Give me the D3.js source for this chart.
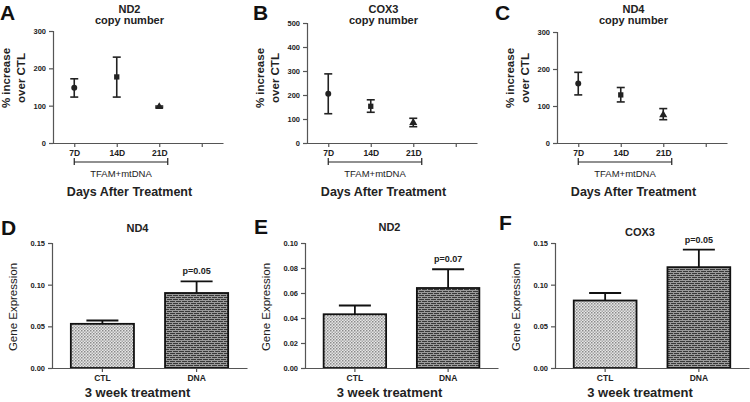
<!DOCTYPE html>
<html>
<head>
<meta charset="utf-8">
<script src="https://cdn.jsdelivr.net/npm/d3@7"></script>
<style>
  body { margin: 0; background: #fff; }
  svg { display: block; font-family: "Liberation Sans", Arial, sans-serif; }
  .tick text { font-weight: bold; fill: #222; }
</style>
</head>
<body>
<div id="vis"></div>
<script>
// copy number panels (A-C)
const days = ['7D', '14D', '21D'];
const copyTitles = ['ND2', 'COX3', 'ND4'];
const copyMax = [300, 500, 300];
const copyTicks = [[0, 100, 200, 300], [0, 100, 200, 300, 400, 500], [0, 100, 200, 300]];
const nd2Copy = [148, 177, 97], nd2CopyLo = [123, 123, 95], nd2CopyHi = [172, 230, 99];
const cox3Copy = [205, 153, 85], cox3CopyLo = [122, 128, 68], cox3CopyHi = [288, 180, 103];
const nd4Copy = [161, 130, 76], nd4CopyLo = [130, 111, 63], nd4CopyHi = [191, 150, 93];

// gene expression panels (D-F)
const groups = ['CTL', 'DNA'];
const exprTitles = ['ND4', 'ND2', 'COX3'];
const exprMax = [0.15, 0.10, 0.15];
const exprTicks = [[0, 0.05, 0.10, 0.15], [0, 0.02, 0.04, 0.06, 0.08, 0.10], [0, 0.05, 0.10, 0.15]];
const nd4Expr = [0.053, 0.090], nd4ExprErr = [0.057, 0.104];
const nd2Expr = [0.043, 0.064], nd2ExprErr = [0.050, 0.079];
const cox3Expr = [0.081, 0.121], cox3ExprErr = [0.090, 0.142];
const pLabels = ['p=0.05', 'p=0.07', 'p=0.05'];

const W = 750, H = 402;
const ink = '#222', axisCol = '#555';

const svg = d3.select('#vis').append('svg')
    .attr('width', W).attr('height', H);

// bar fill patterns
const defs = svg.append('defs');
const dots = defs.append('pattern').attr('id', 'dots')
    .attr('patternUnits', 'userSpaceOnUse').attr('width', 3).attr('height', 3);
dots.append('rect').attr('width', 3).attr('height', 3).attr('fill', '#e6e6e6');
dots.append('rect').attr('width', 1.5).attr('height', 1.5).attr('fill', '#8a8a8a');
dots.append('rect').attr('x', 1.5).attr('y', 1.5).attr('width', 1.5).attr('height', 1.5).attr('fill', '#a8a8a8');

const brick = defs.append('pattern').attr('id', 'brick')
    .attr('patternUnits', 'userSpaceOnUse').attr('width', 6).attr('height', 4);
brick.append('rect').attr('width', 6).attr('height', 4).attr('fill', '#383838');
brick.append('rect').attr('y', 0).attr('width', 6).attr('height', 1).attr('fill', '#9a9a9a');
brick.append('rect').attr('y', 2).attr('width', 6).attr('height', 1).attr('fill', '#9a9a9a');
brick.append('rect').attr('x', 1).attr('y', 0).attr('width', 1).attr('height', 2).attr('fill', '#9a9a9a');
brick.append('rect').attr('x', 4).attr('y', 2).attr('width', 1).attr('height', 2).attr('fill', '#9a9a9a');

// ---------- top row ----------
const copyData = [
    [nd2Copy, nd2CopyLo, nd2CopyHi],
    [cox3Copy, cox3CopyLo, cox3CopyHi],
    [nd4Copy, nd4CopyLo, nd4CopyHi]
];
const topLeft = [53, 307, 557];
const topYTop = [31, 23, 32];
const topLetters = ['A', 'B', 'C'];
const topLetterX = [0, 253, 495];
const topYLabelX = [6, 260, 510];
const yBase = 143;

copyData.forEach((series, i) => {
    const g = svg.append('g');
    const x = d3.scaleLinear().domain([0.5, 4.5]).range([topLeft[i], topLeft[i] + 170]);
    const y = d3.scaleLinear().domain([0, copyMax[i]]).range([yBase, topYTop[i]]);

    g.append('g').attr('transform', `translate(${topLeft[i]},0)`)
        .call(d3.axisLeft(y).tickValues(copyTicks[i]).tickSize(4).tickPadding(3))
        .call(a => a.selectAll('line,path').attr('stroke', axisCol).attr('stroke-width', 1.2))
        .call(a => a.selectAll('text').style('font-size', '7.5px'));

    g.append('g').attr('transform', `translate(0,${yBase})`)
        .call(d3.axisBottom(x).tickValues([1, 2, 3, 4]).tickSize(4).tickPadding(3)
            .tickFormat(d => days[d - 1] || '').tickSizeOuter(0))
        .call(a => a.selectAll('line,path').attr('stroke', axisCol).attr('stroke-width', 1.2))
        .call(a => a.selectAll('text').style('font-size', '8.5px'));

    // grouping bracket
    const by = 162;
    g.append('line').attr('x1', x(1)).attr('x2', x(3.2)).attr('y1', by).attr('y2', by)
        .attr('stroke', ink).attr('stroke-width', 1.2);
    [1, 3.2].forEach(v => g.append('line').attr('x1', x(v)).attr('x2', x(v))
        .attr('y1', by - 4).attr('y2', by + 3).attr('stroke', ink).attr('stroke-width', 1.2));
    g.append('text').attr('x', (x(1) + x(3.2)) / 2).attr('y', 177)
        .attr('text-anchor', 'middle').style('font-size', '9.5px').attr('fill', ink)
        .text('TFAM+mtDNA');
    g.append('text').attr('x', x(2.3)).attr('y', 196)
        .attr('text-anchor', 'middle').style('font-size', '12.5px').style('font-weight', 'bold')
        .attr('fill', ink).text('Days After Treatment');

    // error bars and markers
    const [mean, lo, hi] = series;
    mean.forEach((m, k) => {
        const cx = x(k + 1);
        g.append('line').attr('x1', cx).attr('x2', cx).attr('y1', y(lo[k])).attr('y2', y(hi[k]))
            .attr('stroke', ink).attr('stroke-width', 1.6);
        [lo[k], hi[k]].forEach(v => g.append('line').attr('x1', cx - 4).attr('x2', cx + 4)
            .attr('y1', y(v)).attr('y2', y(v)).attr('stroke', ink).attr('stroke-width', 1.6));
        const sym = [d3.symbolCircle, d3.symbolSquare, d3.symbolTriangle][k];
        g.append('path').attr('d', d3.symbol(sym, 28)())
            .attr('transform', `translate(${cx},${y(m)})`).attr('fill', ink);
    });

    // titles
    const cxTitle = x(2.3);
    g.append('text').attr('x', cxTitle).attr('y', 13).attr('text-anchor', 'middle')
        .style('font-size', '11px').style('font-weight', 'bold').attr('fill', ink).text(copyTitles[i]);
    g.append('text').attr('x', cxTitle).attr('y', 24).attr('text-anchor', 'middle')
        .style('font-size', '11px').style('font-weight', 'bold').attr('fill', ink).text('copy number');

    g.append('text').attr('x', topLetterX[i]).attr('y', 20)
        .style('font-size', '21px').style('font-weight', 'bold').attr('fill', '#111').text(topLetters[i]);

    ['% increase', 'over CTL'].forEach((t, j) => {
        g.append('text')
            .attr('transform', `translate(${topYLabelX[i] + j * 15},78) rotate(-90)`)
            .attr('text-anchor', 'middle').attr('dy', '0.35em')
            .style('font-size', '11.5px').style('font-weight', 'bold').attr('fill', ink).text(t);
    });
});

// ---------- bottom row ----------
const exprData = [[nd4Expr, nd4ExprErr], [nd2Expr, nd2ExprErr], [cox3Expr, cox3ExprErr]];
const botLeft = [52, 305, 555];
const botRight = [247, 498, 749];
const botLetters = ['D', 'E', 'F'];
const botLetterX = [1, 254, 499];
const botLetterY = [235, 234, 230];
const titleY = [232, 231, 236];
const botTop = 243, botBase = 368;

exprData.forEach(([vals, errs], i) => {
    const g = svg.append('g');
    const x = d3.scaleBand().domain(groups).range([botLeft[i], botRight[i]])
        .paddingInner(0.33).paddingOuter(0.2);
    const y = d3.scaleLinear().domain([0, exprMax[i]]).range([botBase, botTop]);

    g.selectAll('.bar').data(groups).join('rect')
        .attr('class', 'bar')
        .attr('x', d => x(d)).attr('width', x.bandwidth())
        .attr('y', (d, k) => y(vals[k])).attr('height', (d, k) => botBase - y(vals[k]))
        .attr('fill', (d, k) => k === 0 ? 'url(#dots)' : 'url(#brick)')
        .attr('stroke', '#111').attr('stroke-width', 1.8);

    groups.forEach((d, k) => {
        const cx = x(d) + x.bandwidth() / 2;
        g.append('line').attr('x1', cx).attr('x2', cx).attr('y1', y(vals[k])).attr('y2', y(errs[k]))
            .attr('stroke', '#111').attr('stroke-width', 1.8);
        g.append('line').attr('x1', cx - 16).attr('x2', cx + 16).attr('y1', y(errs[k])).attr('y2', y(errs[k]))
            .attr('stroke', '#111').attr('stroke-width', 1.8);
    });

    const dnaX = x('DNA') + x.bandwidth() / 2;
    g.append('text').attr('x', dnaX).attr('y', y(errs[1]) - 7).attr('text-anchor', 'middle')
        .style('font-size', '9px').style('font-weight', 'bold').attr('fill', ink).text(pLabels[i]);

    g.append('g').attr('transform', `translate(${botLeft[i]},0)`)
        .call(d3.axisLeft(y).tickValues(exprTicks[i]).tickSize(4).tickPadding(3).tickFormat(d3.format('.2f')))
        .call(a => a.selectAll('line,path').attr('stroke', axisCol).attr('stroke-width', 1.2))
        .call(a => a.selectAll('text').style('font-size', '7.5px'));

    g.append('g').attr('transform', `translate(0,${botBase})`)
        .call(d3.axisBottom(x).tickSize(4).tickPadding(3).tickSizeOuter(0))
        .call(a => a.selectAll('line,path').attr('stroke', axisCol).attr('stroke-width', 1.2))
        .call(a => a.selectAll('text').style('font-size', '8.5px'));

    g.append('text').attr('x', (botLeft[i] + botRight[i]) / 2 - 12).attr('y', 397)
        .attr('text-anchor', 'middle').style('font-size', '13px').style('font-weight', 'bold')
        .attr('fill', ink).text('3 week treatment');

    g.append('text').attr('x', (botLeft[i] + botRight[i]) / 2 - 12).attr('y', titleY[i])
        .attr('text-anchor', 'middle').style('font-size', '11px').style('font-weight', 'bold')
        .attr('fill', ink).text(exprTitles[i]);

    g.append('text').attr('x', botLetterX[i]).attr('y', botLetterY[i])
        .style('font-size', '21px').style('font-weight', 'bold').attr('fill', '#111').text(botLetters[i]);

    g.append('text')
        .attr('transform', `translate(${botLeft[i] - 39},307) rotate(-90)`)
        .attr('text-anchor', 'middle').attr('dy', '0.35em')
        .style('font-size', '11.5px').attr('fill', ink).text('Gene Expression');
});
</script>
</body>
</html>
